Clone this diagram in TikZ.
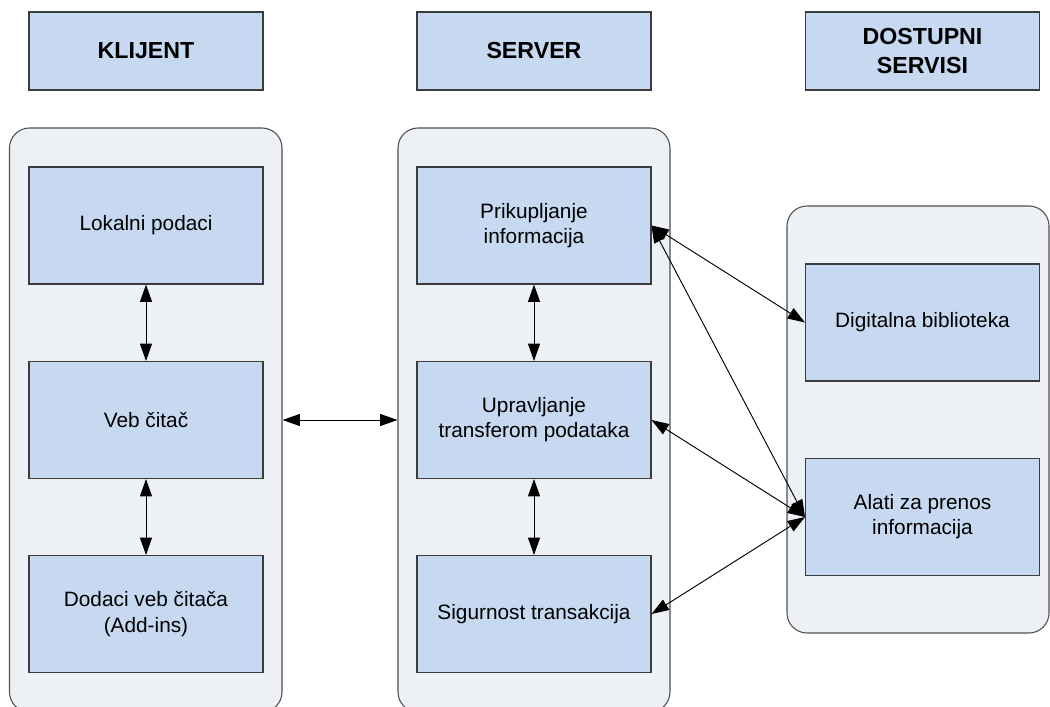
\documentclass[tikz,border=0pt]{standalone}
\usepackage{fontspec}
\setmainfont{Liberation Sans}
\usetikzlibrary{arrows.meta}
\definecolor{boxfill}{RGB}{198,217,240}
\definecolor{boxline}{RGB}{60,60,60}
\definecolor{panelfill}{RGB}{237,240,245}
\definecolor{panelline}{RGB}{80,80,80}
\tikzset{
  headbox/.style={draw=boxline, fill=boxfill, line width=0.8pt,
    minimum width=175.5pt, minimum height=58.5pt, align=center,
    font=\fontsize{17.4}{21.3}\selectfont\bfseries},
  itembox/.style={draw=boxline, fill=boxfill, line width=0.8pt,
    minimum width=175.5pt, minimum height=87.75pt, align=center,
    font=\fontsize{15.6}{18.9}\selectfont},
  panel/.style={draw=panelline, fill=panelfill, line width=0.8pt,
    rounded corners=15pt, inner sep=0pt},
  link/.style={{Triangle[length=13pt,width=9pt]}-{Triangle[length=13pt,width=9pt]},
    line width=0.7pt, black}
}
\begin{document}
\begin{tikzpicture}[x=0.75pt, y=-0.75pt]
\useasboundingbox (0,0) rectangle (1050,707);
\clip (0,0) rectangle (1050,707);

% column headings
\node[headbox] (hk) at (146,51) {KLIJENT};
\node[headbox] (hs) at (534,51) {SERVER};
\node[headbox] (hd) at (922.5,51) {DOSTUPNI\\SERVISI};

% column panels
\node[panel, minimum width=204.4pt, minimum height=438pt] (pk) at (145.75,420) {};
\node[panel, minimum width=204pt, minimum height=438pt] (ps) at (534,420) {};
\node[panel, minimum width=196.5pt, minimum height=320.25pt] (pd) at (918,419.5) {};

% client
\node[itembox] (lok) at (146,225.5) {Lokalni podaci};
\node[itembox] (veb) at (146,420) {Veb čitač};
\node[itembox] (dod) at (146,614) {Dodaci veb čitača\\(Add-ins)};

% server
\node[itembox] (pri) at (534,225.5) {Prikupljanje\\informacija};
\node[itembox] (upr) at (534,420) {Upravljanje\\transferom podataka};
\node[itembox] (sig) at (534,614) {Sigurnost transakcija};

% services
\node[itembox] (dig) at (922.5,322.5) {Digitalna biblioteka};
\node[itembox] (ala) at (922.5,517) {Alati za prenos\\informacija};

% connections
\draw[link] (lok.south) -- (veb.north);
\draw[link] (veb.south) -- (dod.north);
\draw[link] (pri.south) -- (upr.north);
\draw[link] (upr.south) -- (sig.north);
\draw[link] (pk.east) -- (ps.west);
\draw[link] (pri.east) -- (dig.west);
\draw[link] (pri.east) -- (ala.west);
\draw[link] (upr.east) -- (ala.west);
\draw[link] (sig.east) -- (ala.west);
\end{tikzpicture}
\end{document}
